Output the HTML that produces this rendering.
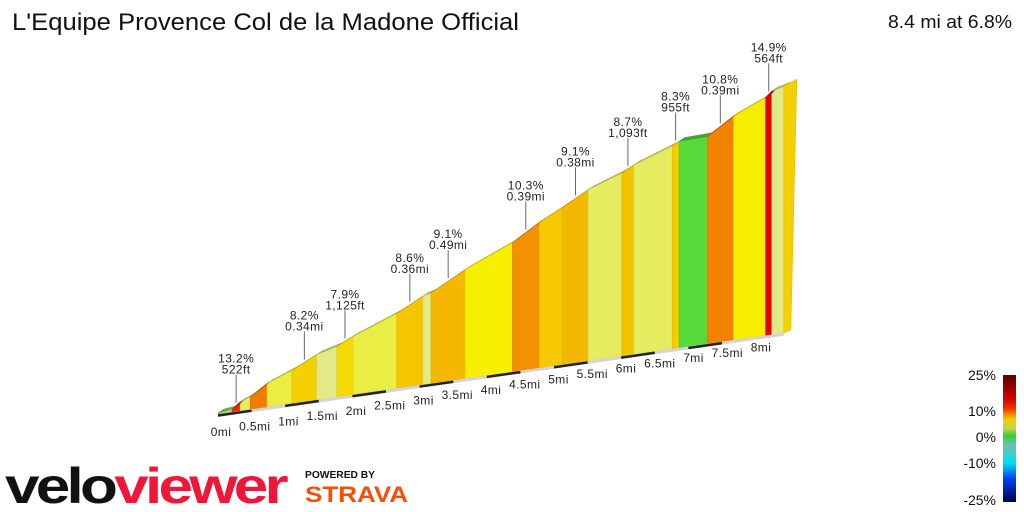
<!DOCTYPE html>
<html><head><meta charset="utf-8"><style>
html,body{margin:0;padding:0;background:#fff;}
svg{display:block;font-family:"Liberation Sans",sans-serif;}
</style></head><body>
<svg id="chart" width="1024" height="512" viewBox="0 0 1024 512" xmlns="http://www.w3.org/2000/svg">
<text x="12" y="30" font-size="24" fill="#111" textLength="507" lengthAdjust="spacingAndGlyphs">L'Equipe Provence Col de la Madone Official</text>
<text x="888" y="28" font-size="18" fill="#111" textLength="124" lengthAdjust="spacingAndGlyphs">8.4 mi at 6.8%</text>
<g id="profile"></g>
<g id="xaxis"></g>
<g id="annots"></g>
<g>
<text x="5" y="503" font-size="50" font-weight="bold" textLength="280" lengthAdjust="spacingAndGlyphs" letter-spacing="-3"><tspan fill="#111">velo</tspan><tspan fill="#f0163a">viewer</tspan></text>
</g>
<g>
<text x="305" y="478" font-size="10" font-weight="bold" fill="#111" textLength="70" lengthAdjust="spacingAndGlyphs">POWERED BY</text>
<text x="305" y="502" font-size="22" font-weight="bold" fill="#fc4c02" textLength="103" lengthAdjust="spacingAndGlyphs">STRAVA</text>
</g>
<defs>
<linearGradient id="legGrad" x1="0" y1="0" x2="0" y2="1">
<stop offset="0" stop-color="#5a0000"/>
<stop offset="0.18" stop-color="#d00000"/>
<stop offset="0.26" stop-color="#f03000"/>
<stop offset="0.35" stop-color="#f0d000"/>
<stop offset="0.42" stop-color="#c8d050"/>
<stop offset="0.48" stop-color="#30d030"/>
<stop offset="0.55" stop-color="#70c0b0"/>
<stop offset="0.69" stop-color="#00e0f0"/>
<stop offset="0.82" stop-color="#0040f0"/>
<stop offset="1" stop-color="#000050"/>
</linearGradient>
</defs>
<g>
<rect x="1003" y="375" width="13" height="127" fill="url(#legGrad)"/>
<g font-size="14" fill="#111" text-anchor="end">
<text x="996" y="380">25%</text>
<text x="996" y="416">10%</text>
<text x="996" y="442">0%</text>
<text x="996" y="468">-10%</text>
<text x="996" y="505">-25%</text>
</g></g>
</svg>
<script>
// segment boundaries (miles) and grade (%) per segment
const segStarts = [0,0.21,0.33,0.48,0.73,1.10,1.47,1.77,2.01,2.66,3.05,3.17,3.68,4.38,4.78,5.13,5.51,6.01,6.19,6.76,6.86,7.28,7.67,8.15,8.24];
const segEnd = 8.42;
const grades = [2,13.2,6,11,6.5,8.2,4.5,7.9,6.5,8.6,4.5,9.1,7.2,10.3,8.5,9.1,6,8.7,6,8.3,0.5,10.8,7.3,14.9,4.5];
const annotSegs = [1,5,7,9,11,13,15,17,19,21,23];
const annotLine1 = ["13.2%","8.2%","7.9%","8.6%","9.1%","10.3%","9.1%","8.7%","8.3%","10.8%","14.9%"];
const annotLine2 = ["522ft","0.34mi","1,125ft","0.36mi","0.49mi","0.39mi","0.38mi","1,093ft","955ft","0.39mi","564ft"];
const tickMiles = [0,0.5,1,1.5,2,2.5,3,3.5,4,4.5,5,5.5,6,6.5,7,7.5,8];
const tickLabels = ["0mi","0.5mi","1mi","1.5mi","2mi","2.5mi","3mi","3.5mi","4mi","4.5mi","5mi","5.5mi","6mi","6.5mi","7mi","7.5mi","8mi"];

const NS="http://www.w3.org/2000/svg";
const X = d => 218 + d*67.2;
const BASE = d => 414 - d*67.2*0.1436;
const VS = 0.0755, H0 = 1;
const bounds = segStarts.concat([segEnd]);
const elev=[0];
for(let i=0;i<grades.length;i++){elev.push(elev[i]+grades[i]/100*(bounds[i+1]-bounds[i])*5280);}
const TOP = i => BASE(bounds[i]) - H0 - elev[i]*VS;
const topAt = d => { let i=0; while(i<grades.length-1 && bounds[i+1]<d) i++;
  const t=(d-bounds[i])/(bounds[i+1]-bounds[i]); return TOP(i)+(TOP(i+1)-TOP(i))*t; };

const stops=[[-25,[0,0,80]],[-10,[0,224,240]],[0,[64,216,48]],[3,[216,228,120]],[4.5,[226,234,136]],[6.3,[230,236,88]],[7.2,[246,240,0]],[8.2,[245,208,0]],[9.1,[244,184,0]],[10.5,[242,140,0]],[12,[240,96,0]],[14,[240,0,0]],[25,[96,0,0]]];
function col(g,f){f=f||1;let a=stops[0],b=stops[stops.length-1];
  if(g<=a[0]) b=a; else for(let i=0;i<stops.length-1;i++){if(g>=stops[i][0]&&g<=stops[i+1][0]){a=stops[i];b=stops[i+1];break;}}
  const t=b[0]===a[0]?0:(g-a[0])/(b[0]-a[0]);
  const c=a[1].map((v,k)=>Math.round((v+(b[1][k]-v)*t)*f));
  return `rgb(${c[0]},${c[1]},${c[2]})`;}
function mk(tag,attrs,parent){const e=document.createElementNS(NS,tag);for(const k in attrs)e.setAttribute(k,attrs[k]);parent.appendChild(e);return e;}

const prof=document.getElementById('profile');
const DX=6, DY=-4;
for(let i=0;i<grades.length;i++){
  const x1=X(bounds[i]), x2=X(bounds[i+1]);
  const b1=BASE(bounds[i]), b2=BASE(bounds[i+1]);
  const t1=TOP(i), t2=TOP(i+1);
  const face=mk('polygon',{points:`${x1},${b1} ${x2},${b2} ${x2},${t2} ${x1},${t1}`,fill:col(grades[i]),stroke:col(grades[i],0.92),'stroke-width':0.6},prof);
  
  
}
for(let i=0;i<grades.length;i++){
  const x1=X(bounds[i]), x2=X(bounds[i+1]);
  const t1=TOP(i), t2=TOP(i+1);
  const top=mk('polygon',{points:`${x1},${t1} ${x2},${t2} ${x2+DX},${t2+DY} ${x1+DX},${t1+DY}`,fill:col(grades[i],0.75),stroke:col(grades[i],0.75),'stroke-width':0.5},prof);
  
  
}
{const n=grades.length, xe=X(segEnd), be=BASE(segEnd), te=TOP(n);
 const endF=mk('polygon',{points:`${xe},${be} ${xe},${te} ${xe+13},${te-7} ${xe+7},${be-3}`,fill:'#f5d000',stroke:'#e0bc00','stroke-width':0.6},prof);
 
 
 const st=mk('polygon',{points:`${X(0)},${BASE(0)} ${X(0)},${TOP(0)} ${X(0)+DX},${TOP(0)+DY} ${X(0)+DX},${BASE(0)+DY}`,fill:'#3c9a28'},prof);
 
 }

const xa=document.getElementById('xaxis');
const rib=mk('line',{x1:X(0),y1:BASE(0)+1.5,x2:X(segEnd),y2:BASE(segEnd)+1.5,stroke:'#d4d4d4','stroke-width':3},xa);


for(let i=0;i<tickMiles.length-1;i+=2){
  const m=mk('line',{x1:X(tickMiles[i]),y1:BASE(tickMiles[i])+1.5,x2:X(tickMiles[i+1]),y2:BASE(tickMiles[i+1])+1.5,stroke:'#222','stroke-width':2.5},xa);
  
  
}
for(let i=0;i<tickMiles.length;i++){
  const d=tickMiles[i];
  const t=mk('text',{x:X(d)+3+d*0.3,y:BASE(d)+22-d*0.9,'font-size':12,'letter-spacing':0.4,fill:'#222','text-anchor':'middle'},xa);
  t.textContent=tickLabels[i];
  
  
}
const an=document.getElementById('annots');
for(let k=0;k<annotSegs.length;k++){
  const s=annotSegs[k], dm=(bounds[s]+bounds[s+1])/2, x=X(dm), yb=topAt(dm)-3;
  const ln=mk('line',{x1:x,y1:yb,x2:x,y2:yb-28,stroke:'#666','stroke-width':1},an);
  
  
  const t=mk('text',{x:x,y:yb-40,'font-size':12,'letter-spacing':0.4,fill:'#222','text-anchor':'middle'},an);
  
  
  const a=mk('tspan',{x:x,dy:0},t);a.textContent=annotLine1[k];
  const b=mk('tspan',{x:x,dy:11},t);b.textContent=annotLine2[k];
}
</script>
</body></html>
